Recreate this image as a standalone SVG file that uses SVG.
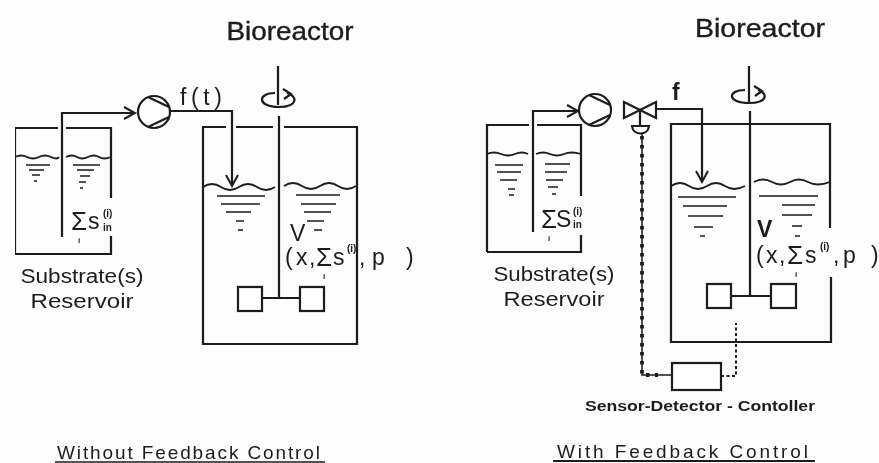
<svg xmlns="http://www.w3.org/2000/svg" width="879" height="463" viewBox="0 0 879 463">
<style>
text{font-family:"Liberation Sans",Arial,sans-serif;fill:#1c1c1c}
.l{fill:none;stroke:#1c1c1c;stroke-width:2.2}
.t{fill:none;stroke:#1c1c1c;stroke-width:1.5}
.w{fill:none;stroke:#1c1c1c;stroke-width:1.8}
.n{fill:#fff;stroke:#1c1c1c;stroke-width:2.2}
.d{fill:none;stroke:#1c1c1c;stroke-width:2;stroke-dasharray:3 2.5}
.s{fill:none;stroke:#1c1c1c;stroke-width:3.8;stroke-dasharray:3.5 5.5}
.h{font-size:25px;stroke:#1c1c1c;stroke-width:.35}
.c{font-size:20px}
.e{font-size:19px}
.f{font-size:23px}
.g{font-size:26px}
.b{font-size:14px;font-weight:bold}
.x{font-size:10px;font-weight:bold}
.i{font-size:8px;font-weight:bold}
</style>
<defs>
<marker id="a" markerWidth="16" markerHeight="16" refX="13" refY="8" orient="auto" markerUnits="userSpaceOnUse"><path d="M2 2L13 8L2 14" fill="none" stroke="#1c1c1c" stroke-width="2"/></marker>
<filter id="soft" x="0" y="0" width="100%" height="100%"><feGaussianBlur stdDeviation="0.45"/></filter>
</defs>
<rect width="879" height="463" fill="#fdfdfd"/>
<g filter="url(#soft)">

<g id="reservoir-left">
<path class="l" d="M15 254V128H58M66 128H111V198M111 236V254H15"/>
<path class="w" d="M15 157q6 -3 12 0t12 0t12 0t8 0M66 157q6 -3 11 0t11 0t11 0t12 0"/>
<path class="t" d="M26 165H50M29 170H44M32 175H40M34 181H37M73 165H100M77 170H94M80 176H90M79 182H86M80 188H83"/>
<text class="g" x="71" y="230">Σ</text><text class="f" x="88" y="229">s</text><text class="x" x="103" y="217">(i)</text><text class="x" x="103" y="231">in</text>
<text class="i" x="78" y="243">i</text>
<text class="c" x="82" y="283" text-anchor="middle" textLength="123" lengthAdjust="spacingAndGlyphs">Substrate(s)</text>
<text class="c" x="82" y="308" text-anchor="middle" textLength="103" lengthAdjust="spacingAndGlyphs">Reservoir</text>
</g>

<g id="pump-left">
<circle class="n" cx="154" cy="112" r="16"/>
<path class="l" d="M148 97L169 107M148 127L169 117"/>
</g>

<g id="reactor-left">
<text class="h" x="290" y="40" text-anchor="middle" textLength="127" lengthAdjust="spacingAndGlyphs">Bioreactor</text>
<path class="l" d="M357 235V344H203V127H226M236 127H273M284 127H357V235M278 66V105M279 116V298"/>
<path class="l" d="M275 93C257 93 257 107 279 107C298 107 298 96 287 93"/>
<path class="l" d="M283 89L291 94L284 99"/>
<path class="w" d="M203 187q9 -6 18 0t18 0t18 0t18 0M284 186q9 -6 18 0t18 0t18 0t18 0"/>
<path class="t" d="M217 196H265M221 204H260M226 212H251M236 221H244M238 230H243M296 195H340M301 204H336M304 212H331M307 221H324M314 230H322"/>
<rect class="n" x="238" y="287" width="24" height="24"/>
<rect class="n" x="300" y="287" width="24" height="24"/>
<path class="l" d="M262 298H300"/>
<text class="f" x="290" y="241">V</text>
<text class="f" x="285" y="265">(</text><text class="f" x="296" y="265">x</text><text class="f" x="309" y="265">,</text>
<text class="g" x="316" y="266">Σ</text><text class="f" x="333" y="265">s</text>
<text class="x" x="347" y="252">(i)</text>
<text class="f" x="359" y="265">,</text><text class="f" x="372" y="265">p</text><text class="f" x="406" y="265">)</text>
<text class="i" x="323" y="279">i</text>
</g>

<g id="reservoir-right">
<path class="l" d="M487 252V125H529M537 125H581V196M581 235V252H487"/>
<path class="w" d="M487 154q7 -3 14 0t14 0t13 0M536 154q7 -3 14 0t14 0t17 0"/>
<path class="t" d="M495 165H523M497 172H521M500 180H517M508 189H515M509 195H514M545 164H570M545 172H567M546 180H563M548 187H558M552 194H556"/>
<text class="g" x="541" y="228">Σ</text><text class="f" x="556" y="227">S</text><text class="x" x="573" y="215">(i)</text><text class="x" x="573" y="228">in</text>
<text class="i" x="548" y="241">i</text>
<text class="c" x="554" y="281" text-anchor="middle" textLength="121" lengthAdjust="spacingAndGlyphs">Substrate(s)</text>
<text class="c" x="554" y="306" text-anchor="middle" textLength="101" lengthAdjust="spacingAndGlyphs">Reservoir</text>
</g>

<g id="pump-right">
<circle class="n" cx="595" cy="110" r="16"/>
<path class="l" d="M589 95L610 105M589 125L610 115"/>
</g>

<g id="valve">
<path class="l" d="M624 102L640 110L624 118ZM656 102L640 110L656 118Z"/>
<path class="l" d="M640 110V126M632 126H649C648 136 633 136 632 126Z"/>
</g>

<g id="reactor-right">
<text class="h" x="760" y="37" text-anchor="middle" textLength="130" lengthAdjust="spacingAndGlyphs">Bioreactor</text>
<path class="l" d="M830 228V124H745M753 124H671V342H831V277M749 66V103M750 111V295"/>
<path class="l" d="M745 90C727 90 727 103 749 103C768 103 768 93 758 90"/>
<path class="l" d="M754 86L762 91L755 96"/>
<path class="w" d="M671 186q9 -6 18 0t18 0t18 0t20 0M754 182q9 -5 18 0t18 0t18 0t22 0"/>
<path class="t" d="M678 197H736M683 206H727M688 216H723M694 227H713M700 236H705M759 196H818M782 205H815M782 215H812M792 226H802M795 236H800"/>
<rect class="n" x="707" y="284" width="24" height="24"/>
<rect class="n" x="771" y="284" width="25" height="24"/>
<path class="l" d="M731 296H771"/>
<text class="f" x="757" y="237" font-weight="bold">V</text>
<text class="f" x="756" y="263">(</text><text class="f" x="766" y="263">x</text><text class="f" x="779" y="263">,</text>
<text class="g" x="787" y="264">Σ</text><text class="f" x="805" y="263">s</text>
<text class="x" x="820" y="250">(i)</text>
<text class="f" x="833" y="263">,</text><text class="f" x="843" y="263">p</text><text class="f" x="871" y="263">)</text>
<text class="i" x="795" y="277">i</text>
</g>

<g id="controller">
<rect class="n" x="672" y="363" width="49" height="27"/>
<text class="b" x="700" y="411" text-anchor="middle" textLength="230" lengthAdjust="spacingAndGlyphs">Sensor-Detector - Contoller</text>
</g>

<g id="connectors">
<path class="l" d="M62 237V113H135" marker-end="url(#a)"/>
<path class="l" d="M170 111H232V186" marker-end="url(#a)"/>
<path class="l" d="M533 232V111H578" marker-end="url(#a)"/>
<path class="l" d="M656 109H702V182" marker-end="url(#a)"/>
<path class="t" d="M642 134V375H672"/>
<path class="s" d="M642 136V375H658"/>
<path class="d" d="M721 376H736V323"/>
</g>

<g id="labels">
<text class="f" x="180" y="105" textLength="42" lengthAdjust="spacing">f(t)</text>
<text class="f" x="672" y="100" font-weight="bold">f</text>
<text class="e" x="57" y="459" textLength="263" lengthAdjust="spacing">Without Feedback Control</text>
<path class="t" d="M55 462H325"/>
<text class="e" x="557" y="458" textLength="251" lengthAdjust="spacing">With  Feedback  Control</text>
<path class="l" d="M553 461H815"/>
</g>
</g>
</svg>
